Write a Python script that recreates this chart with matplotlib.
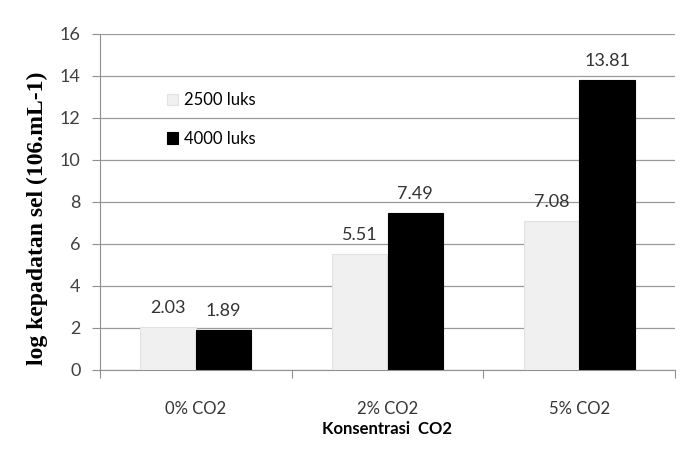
import matplotlib
matplotlib.use("Agg")
import matplotlib.pyplot as plt
import numpy as np

categories = ["0% CO2", "2% CO2", "5% CO2"]
series_names = ["2500 luks", "4000 luks"]
vals_2500 = [2.03, 5.51, 7.08]
vals_4000 = [1.89, 7.49, 13.81]
yticks = [0, 2, 4, 6, 8, 10, 12, 14, 16]

plt.rcParams['font.family'] = ['Lato', 'DejaVu Sans']

fig = plt.figure(figsize=(6.98, 4.5), dpi=100)
ax = fig.add_axes([100/698, 80/450, 575/698, 336/450])

x = np.arange(len(categories))
w = 0.29
b1 = ax.bar(x - w/2, vals_2500, w, color="#f0f0f0", edgecolor="#e2e2e2", linewidth=0.8,
            label=series_names[0], zorder=3)
b2 = ax.bar(x + w/2, vals_4000, w, color="#000000", edgecolor="#000000", linewidth=0.8,
            label=series_names[1], zorder=3)

for rect, v in zip(list(b1) + list(b2), vals_2500 + vals_4000):
    ax.annotate(f"{v:.2f}", (rect.get_x() + rect.get_width()/2, v), xytext=(0, 8),
                textcoords="offset points", ha="center", va="bottom",
                fontsize=13, color="#333333", zorder=4)

ax.set_xlim(-0.5, 2.5)
ax.set_ylim(0, 16)
ax.set_yticks(yticks)
ax.set_yticklabels([str(t) for t in yticks], fontsize=13, color="#404040")
ax.set_xticks([-0.5, 0.5, 1.5, 2.5], minor=False)
ax.set_xticklabels([])
ax.set_xticks(x, minor=True)
ax.set_xticklabels(categories, minor=True, fontsize=12, color="#333333")
ax.tick_params(axis="x", which="major", length=6, color="#909090", direction="out")
ax.tick_params(axis="x", which="minor", length=0, pad=22)
ax.tick_params(axis="y", length=6, color="#909090", direction="out", pad=8)

ax.grid(axis="y", color="#9a9a9a", linewidth=0.9, zorder=0)
for s in ["top", "right"]:
    ax.spines[s].set_visible(False)
ax.spines["left"].set_color("#909090")
ax.spines["bottom"].set_color("#909090")

ax.set_xlabel("Konsentrasi  CO2", fontsize=12, fontweight="bold")
ax.xaxis.set_label_coords(0.5, -0.176)
ax.xaxis.label.set_va("center")
ax.set_ylabel("log kepadatan sel (106.mL-1)", fontsize=17, fontweight="bold",
              family="Liberation Serif")
ax.yaxis.set_label_coords(-0.108, 0.452)
ax.yaxis.label.set_va("center")

leg = ax.legend(loc="upper left", bbox_to_anchor=(0.1165, 0.826), frameon=False, fontsize=12,
                handlelength=0.66, handleheight=0.66, handletextpad=0.36, labelspacing=1.34,
                borderpad=0, borderaxespad=0)

fig.savefig("out.png", dpi=100)
